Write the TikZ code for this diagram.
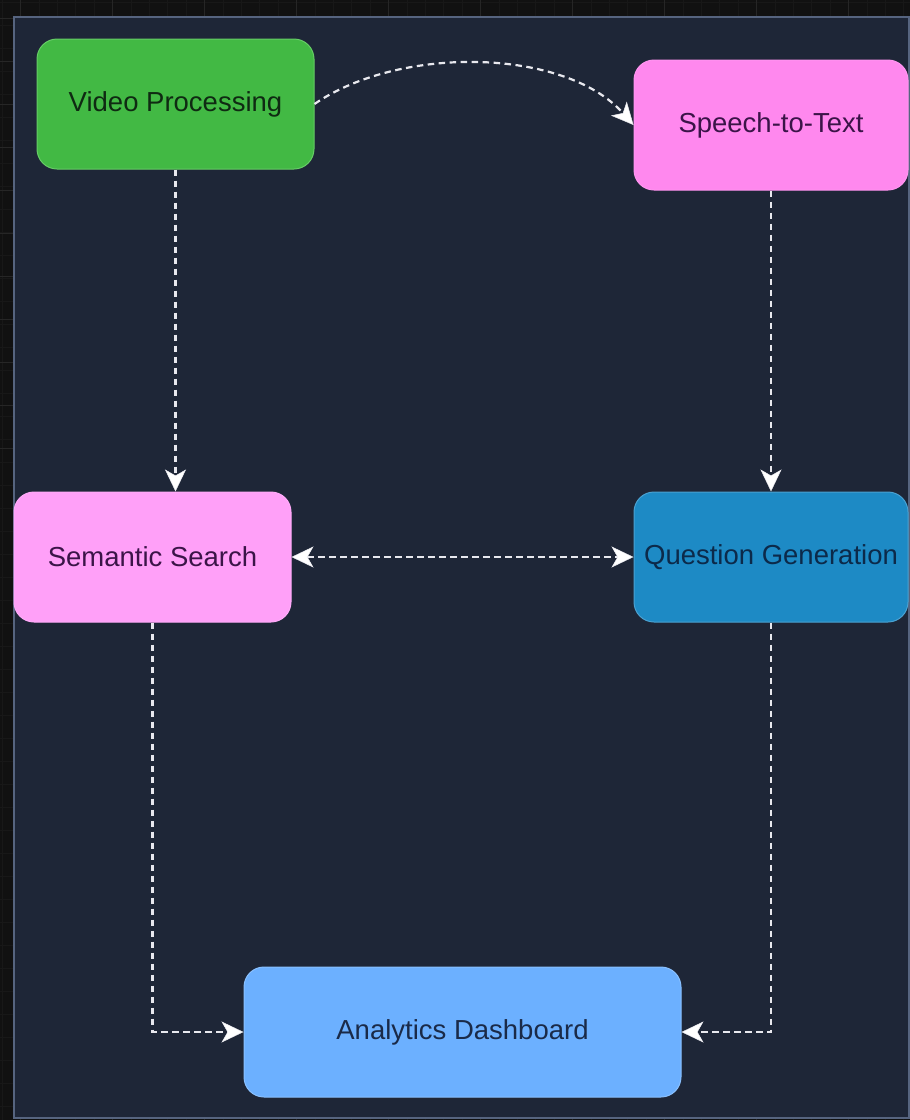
\documentclass[tikz,border=0pt]{standalone}
\usepackage{fontspec}
\setmainfont{Liberation Sans}
\usetikzlibrary{arrows.meta}
\definecolor{outerbg}{HTML}{111111}
\definecolor{gridmin}{HTML}{181818}
\definecolor{gridmaj}{HTML}{262626}
\definecolor{framebg}{HTML}{1E2637}
\definecolor{frameline}{HTML}{56647F}
\definecolor{vpfill}{HTML}{42B944}
\definecolor{vpline}{HTML}{66CC66}
\definecolor{vptext}{HTML}{0F2A12}
\definecolor{sttfill}{HTML}{FF88EE}
\definecolor{ssfill}{HTML}{FFA0F8}
\definecolor{pinktext}{HTML}{3B1448}
\definecolor{qgfill}{HTML}{1D8AC5}
\definecolor{qgtext}{HTML}{0C2A4A}
\definecolor{adfill}{HTML}{6CB0FF}
\definecolor{adtext}{HTML}{1A2A48}
\definecolor{flow}{HTML}{E8E8EE}
\tikzset{
  x=1pt, y=-1pt,
  box/.style={rectangle, rounded corners=20pt, minimum height=130pt, inner sep=0pt,
    font=\fontsize{27.5}{31}\selectfont, line width=1pt},
  flowline/.style={draw=flow, line width=2.2pt, dash pattern=on 6.5pt off 4.5pt, -{Stealth[length=22pt,width=21pt,inset=6pt,fill=white,line width=0.5pt]}},
  bothline/.style={draw=flow, line width=2.2pt, dash pattern=on 6.5pt off 4.5pt,
    {Stealth[length=22pt,width=21pt,inset=6pt,fill=white,line width=0.5pt]}-{Stealth[length=22pt,width=21pt,inset=6pt,fill=white,line width=0.5pt]}},
}
\begin{document}
\begin{tikzpicture}
\useasboundingbox (0,0) rectangle (910,1120);
% outer dark workspace with grid
\fill[outerbg] (0,0) rectangle (910,1120);
\foreach \i in {0,...,49} {
  \draw[gridmin, line width=0.6pt] ({\i*18.4+2},0) -- ({\i*18.4+2},1120);
  \draw[gridmin, line width=0.6pt] (0,{\i*23+2}) -- (910,{\i*23+2});
}
\foreach \i in {0,...,10} {
  \draw[gridmaj, line width=0.8pt] ({\i*92+20},0) -- ({\i*92+20},1120);
  \draw[gridmaj, line width=0.8pt] (0,{\i*43+18}) -- (910,{\i*43+18});
}
% frame
\draw[fill=framebg, draw=frameline, line width=1.5pt] (14,17) rectangle (909,1118);

% nodes
\node[box, fill=vpfill, draw=vpline, text=vptext, minimum width=277pt] (vp) at (175.5,104) {Video Processing};
\node[box, fill=sttfill, draw=sttfill!90!white, text=pinktext, minimum width=274pt] (stt) at (771,125) {Speech-to-Text};
\node[box, fill=ssfill, draw=ssfill!90!white, text=pinktext, minimum width=277pt] (ss) at (152.5,557) {Semantic Search};
\node[box, fill=qgfill, draw=qgfill!80!white, text=qgtext, minimum width=274pt] (qg) at (771,557) {Question Generation};
\node[box, fill=adfill, draw=adfill!80!white, text=adtext, minimum width=437pt] (ad) at (462.5,1032) {Analytics Dashboard};

% connectors
\draw[flowline] (vp.east) .. controls (400,45) and (565,48) .. (stt.west);
\draw[flowline] (vp.south) -- (vp.south |- ss.north);
\draw[flowline] (stt.south) -- (qg.north);
\draw[bothline] (ss.east) -- (qg.west);
\draw[flowline] (ss.south) |- (ad.west);
\draw[flowline] (qg.south) |- (ad.east);
\end{tikzpicture}
\end{document}
